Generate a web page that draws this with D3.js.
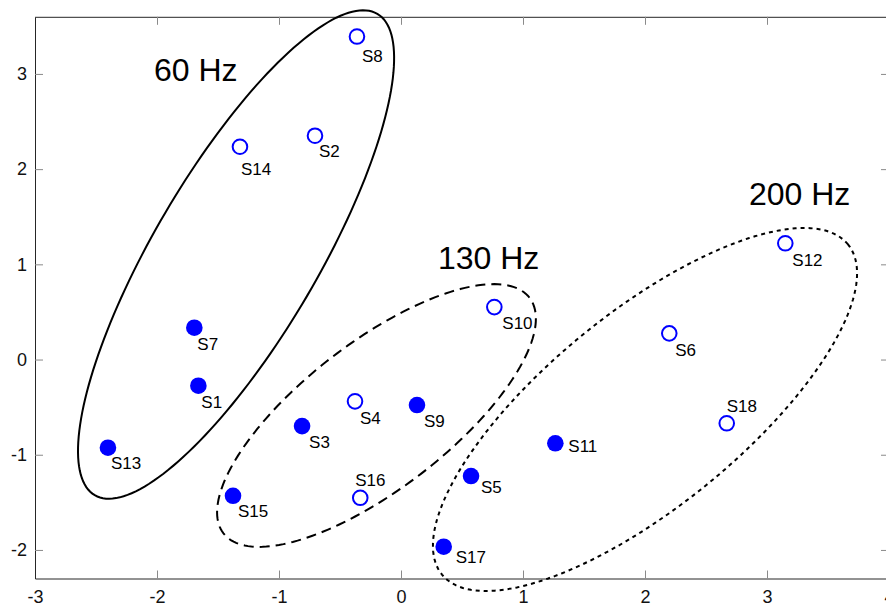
<!DOCTYPE html>
<html><head><meta charset="utf-8">
<script src="https://cdn.jsdelivr.net/npm/d3@7/dist/d3.min.js"></script>
<style>
body{margin:0;background:#fff;}
svg{display:block;font-family:"Liberation Sans",Arial,Helvetica,sans-serif;}
</style></head><body>
<svg id="chart" width="886" height="608"></svg>
<script>
// ---- data ----
const subjects = ["S1","S2","S3","S4","S5","S6","S7","S8","S9","S10","S11","S12","S13","S14","S15","S16","S17","S18"];
const xValues = [-1.661,-0.705,-0.811,-0.377,0.574,2.199,-1.694,-0.361,0.131,0.765,1.265,3.150,-2.402,-1.320,-1.377,-0.334,0.350,2.670];
const yValues = [-0.275,2.351,-0.699,-0.439,-1.224,0.275,0.334,3.393,-0.478,0.551,-0.880,1.221,-0.926,2.235,-1.431,-1.452,-1.966,-0.670];
const hollow  = [false,true,false,true,false,true,false,true,false,true,false,true,false,true,false,true,false,true];

const xTicks = [-3,-2,-1,0,1,2,3,4];
const yTicks = [-2,-1,0,1,2,3];
const xDomain = [-3,4];
const yDomain = [-2.3,3.6];

const groupNames = ["60 Hz","130 Hz","200 Hz"];
const groupLabelX = [-2.025,0.303,2.852];
const groupLabelY = [2.925,0.951,1.623];
// ellipse: centre + two conjugate semi-axis vectors, in data units
const ellipseCX = [-1.352,-0.201,2.000];
const ellipseCY = [1.103,-0.588,-0.525];
const ellipseAX = [1.158,1.254,1.664];
const ellipseAY = [2.528,1.238,1.734];
const ellipseBX = [-0.581,-0.367,-0.503];
const ellipseBY = [0.437,0.610,0.793];

// ---- layout / style ----
const labelOffsets = {S1:[3,22],S2:[4,21],S3:[7,22],S4:[5,23],S5:[10,17],S6:[6,23],S7:[3,22],S8:[5,25],S9:[7,22],
  S10:[8,22],S11:[13,9],S12:[7,23],S13:[3,21],S14:[1,28],S15:[5,21],S16:[-5,-12],S17:[12,16],S18:[0,-11]};
const dashes = [null,"10,6","4,4"];

const svg = d3.select("#chart");
const x = d3.scaleLinear().domain(xDomain).range([35,889]);
const y = d3.scaleLinear().domain(yDomain).range([578.5,16.8]);

// axes (MATLAB style box with inward ticks)
function styleAxis(g){
  g.select(".domain").attr("stroke","#262626").attr("stroke-width",1);
  g.selectAll(".tick line").attr("stroke","#8a8a8a").attr("stroke-width",1);
  g.selectAll("text").attr("fill","#111").style("font-size","18px").style("font-family","'Liberation Sans',Arial,sans-serif");
}
svg.append("g").attr("transform",`translate(0,${y(yDomain[0])})`)
  .call(d3.axisBottom(x).tickValues(xTicks).tickSizeInner(-8).tickSizeOuter(0).tickPadding(12).tickFormat(d3.format("d")))
  .call(styleAxis);
svg.append("g").attr("transform",`translate(0,${y(yDomain[1])})`)
  .call(d3.axisTop(x).tickValues(xTicks).tickSizeInner(-8).tickSizeOuter(0).tickFormat(""))
  .call(styleAxis);
svg.append("g").attr("transform",`translate(${x(xDomain[0])},0)`)
  .call(d3.axisLeft(y).tickValues(yTicks).tickSizeInner(-8).tickSizeOuter(0).tickPadding(8).tickFormat(d3.format("d")))
  .call(styleAxis);
svg.append("g").attr("transform",`translate(${x(xDomain[1])},0)`)
  .call(d3.axisRight(y).tickValues(yTicks).tickSizeInner(-8).tickSizeOuter(0).tickFormat(""))
  .call(styleAxis);
// minus sign as hyphen like the reference
svg.selectAll(".tick text").text(function(){return d3.select(this).text().replace("−","-");});

// ellipses
const ts = d3.range(0,361,2).map(d=>d*Math.PI/180);
const line = d3.line().x(d=>x(d[0])).y(d=>y(d[1]));
groupNames.forEach((g,i)=>{
  const pts = ts.map(t=>[ellipseCX[i]+ellipseAX[i]*Math.cos(t)+ellipseBX[i]*Math.sin(t),
                         ellipseCY[i]+ellipseAY[i]*Math.cos(t)+ellipseBY[i]*Math.sin(t)]);
  svg.append("path").attr("d",line(pts)+"Z").attr("fill","none").attr("stroke","#000")
    .attr("stroke-width",2).attr("stroke-dasharray",dashes[i]);
  svg.append("text").attr("x",x(groupLabelX[i])).attr("y",y(groupLabelY[i]))
    .style("font-size","32px").attr("fill","#000").text(g);
});

// points
const pts = subjects.map((s,i)=>({s,x:xValues[i],y:yValues[i],h:hollow[i]}));
svg.append("g").selectAll("circle").data(pts).join("circle")
  .attr("cx",d=>x(d.x)).attr("cy",d=>y(d.y))
  .attr("r",d=>d.h?7.3:8.3)
  .attr("fill",d=>d.h?"none":"#0000ff")
  .attr("stroke",d=>d.h?"#0000ff":"none").attr("stroke-width",2);
svg.append("g").selectAll("text").data(pts).join("text")
  .attr("x",d=>x(d.x)+labelOffsets[d.s][0]).attr("y",d=>y(d.y)+labelOffsets[d.s][1])
  .style("font-size","17px").attr("fill","#000").text(d=>d.s);
</script>
</body></html>
